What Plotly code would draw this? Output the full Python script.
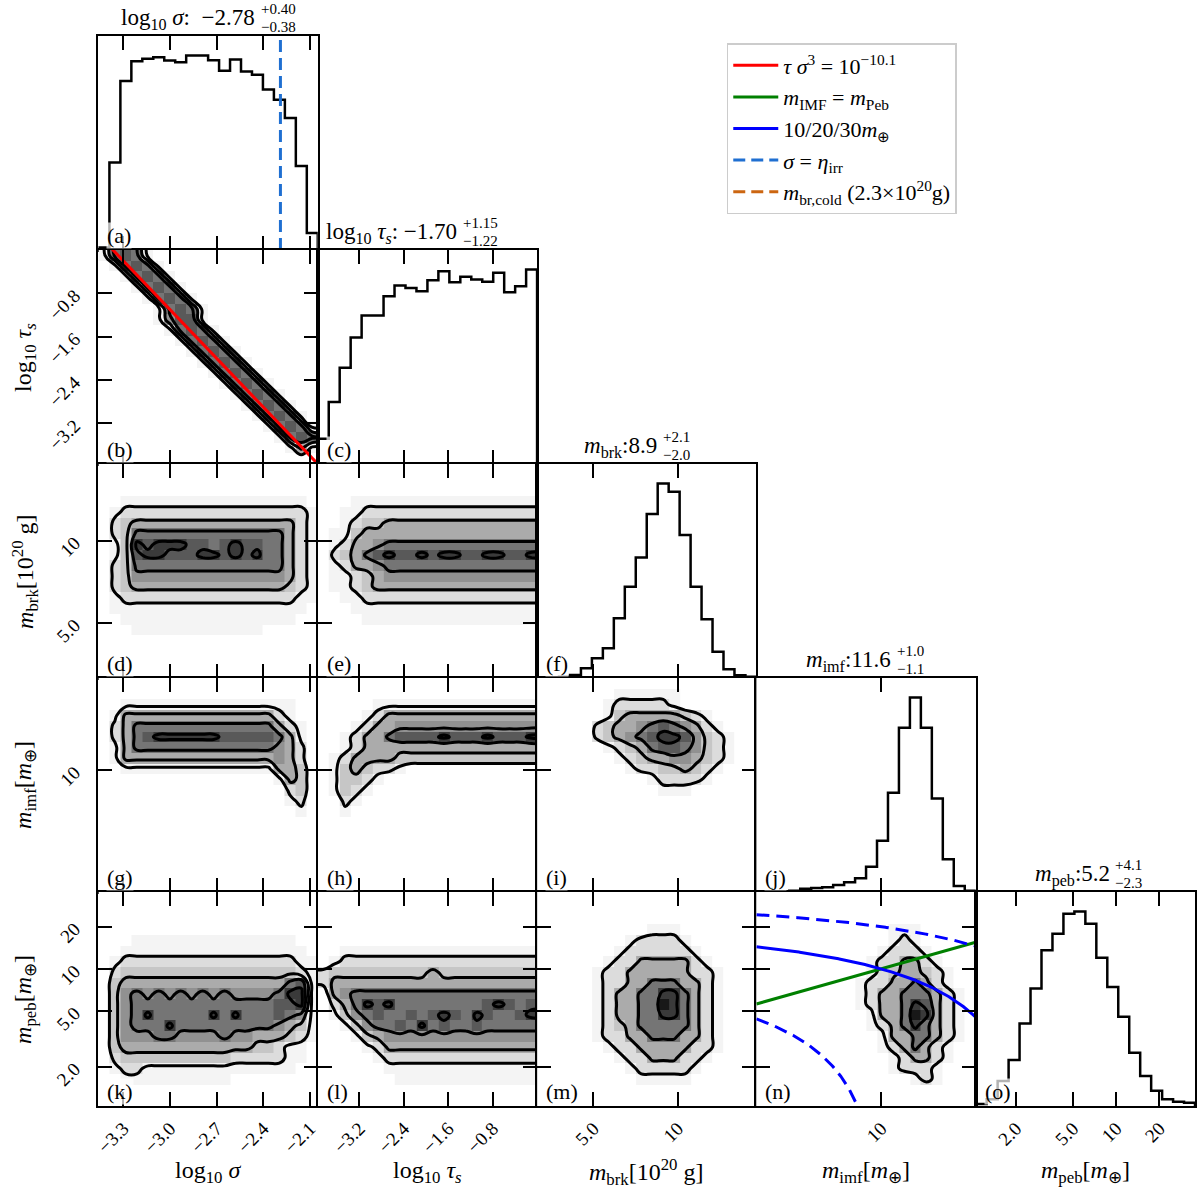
import numpy as np
import plotly.graph_objects as go

FONT = "Liberation Serif"
W, H = 1200, 1198
GRID_LEFT, GRID_RIGHT, GRID_TOP, GRID_BOTTOM = 94.0, 1197.0, 36.0, 1106.0
NPAR = 5
NBINS = 20

# ---------------- parameters / axes ----------------
IS_LOG = [False, False, True, True, True]
AX_RANGE = [(-3.46, -2.05), (-3.95, 0.0), (0.498, 1.28), (0.749, 1.19), (0.02, 1.549)]
TICK_VALS = [[-3.3, -3.0, -2.7, -2.4, -2.1], [-3.2, -2.4, -1.6, -0.8], [5, 10], [10], [2, 5, 10, 20]]
TICK_TEXT = [["−3.3", "−3.0", "−2.7", "−2.4", "−2.1"], ["−3.2", "−2.4", "−1.6", "−0.8"],
             ["5.0", "10"], ["10"], ["2.0", "5.0", "10", "20"]]
AXIS_TITLES = ["log<sub>10</sub> <i>σ</i>", "log<sub>10</sub> <i>τ<sub>s</sub></i>",
               "<i>m</i><sub>brk</sub>[10<sup>20</sup> g]", "<i>m</i><sub>imf</sub>[<i>m</i><sub>⊕</sub>]",
               "<i>m</i><sub>peb</sub>[<i>m</i><sub>⊕</sub>]"]
TITLE_NAMES = ["log<sub>10</sub> <i>σ</i>:  ", "log<sub>10</sub> <i>τ<sub>s</sub></i>: ",
               "<i>m</i><sub>brk</sub>:", "<i>m</i><sub>imf</sub>:", "<i>m</i><sub>peb</sub>:"]
MEDIANS = ["−2.78", "−1.70", "8.9", "11.6", "5.2"]
ERR_PLUS = ["+0.40", "+1.15", "+2.1", "+1.0", "+4.1"]
ERR_MINUS = ["−0.38", "−1.22", "−2.0", "−1.1", "−2.3"]
TITLE_SPLIT_X = [253, 457, 658, 893, 1113]
PANEL_LETTERS = list("abcdefghijklmno")

# ---------------- 1D histograms (20 bins over axis range) ----------------
HIST_LOG_SIGMA = [7, 257, 497, 555, 562, 567, 557, 552, 572, 572, 558, 527, 560, 525, 515, 472, 442, 388, 247, 50]
HIST_LOG_TAU = [75, 185, 287, 377, 443, 443, 500, 532, 525, 515, 548, 575, 542, 558, 550, 543, 570, 512, 530, 580]
HIST_MBRK = [0, 2, 4, 9, 29, 59, 89, 179, 274, 362, 492, 584, 559, 429, 274, 176, 79, 26, 8, 4]
HIST_MIMF = [1, 1, 2, 4, 10, 12, 14, 21, 29, 41, 76, 154, 298, 493, 584, 493, 281, 98, 18, 4]
HIST_MPEB = [6, 20, 75, 138, 248, 353, 468, 518, 578, 585, 548, 446, 358, 268, 160, 90, 46, 20, 13, 10]
HISTS = [HIST_LOG_SIGMA, HIST_LOG_TAU, HIST_MBRK, HIST_MIMF, HIST_MPEB]

# ---------------- 2D densities (20x20, top row first, digits 0-9) ----------------
DENS_TAU_SIGMA = [
    "16761000000000000000", "01676100000000000000", "00167610000000000000", "00016761000000000000",
    "00001676100000000000", "00000167610000000000", "00000157710000000000", "00000016761000000000",
    "00000001676100000000", "00000000167610000000", "00000000016761000000", "00000000001676100000",
    "00000000000167610000", "00000000000016761000", "00000000000001676100", "00000000000000167610",
    "00000000000000016761", "00000000000000001676", "00000000000000000141", "00000000000000000000"]
DENS_MBRK_SIGMA = [
    "00000000000000000000", "00000000000000000000", "00000000000000000000", "00111111111111111110",
    "01222222222222222221", "02344444444444444421", "02366666666666666421", "01387888776787766421",
    "01378877788787866421", "02366666666666666421", "02355555555555555421", "02344444444444444321",
    "01222222222222222211", "01111111111111111110", "00111111111111111100", "00011111111111100000",
    "00000000000000000000", "00000000000000000000", "00000000000000000000", "00000000000000000000"]
DENS_MBRK_TAU = [
    "00000000000000000000", "00000000000000000000", "00000000000000000000", "00011111111111111111",
    "00112222222222222222", "00123344444444444444", "01134444444444444444", "01244566666666666666",
    "02346787787887788778", "01244566666666666666", "01123455555555555555", "01123444444444444444",
    "00112222222222222222", "00011111111111111111", "00001111111111111111", "00000000000000000000",
    "00000000000000000000", "00000000000000000000", "00000000000000000000", "00000000000000000000"]
DENS_MIMF_SIGMA = [
    "00000000000000000000", "00000000000000000000", "00111111111111111100", "01444444444444442100",
    "02466666666666664210", "02467888888777776410", "01466666666666665420", "01444444444444445420",
    "00111111111111114430", "00000000000000001430", "00000000000000000230", "00000000000000000120",
    "00000000000000000010", "00000000000000000000", "00000000000000000000", "00000000000000000000",
    "00000000000000000000", "00000000000000000000", "00000000000000000000", "00000000000000000000"]
DENS_MIMF_TAU = [
    "00000000000000000000", "00000000000000000000", "00000111111111111111", "00001244444444444444",
    "00012445555555555555", "00124467777877787778", "00124444444444444444", "01244443333333333333",
    "01343221000000000000", "01332100000000000000", "01321000000000000000", "00210000000000000000",
    "00100000000000000000", "00000000000000000000", "00000000000000000000", "00000000000000000000",
    "00000000000000000000", "00000000000000000000", "00000000000000000000", "00000000000000000000"]
DENS_MIMF_MBRK = [
    "00000000000000000000", "00000001111110000000", "00000012222210000000", "00000013444443210000",
    "00000234456765421000", "00000234567887532100", "00000012346776532100", "00000001234455432100",
    "00000000122334321000", "00000000001222210000", "00000000000111000000", "00000000000000000000",
    "00000000000000000000", "00000000000000000000", "00000000000000000000", "00000000000000000000",
    "00000000000000000000", "00000000000000000000", "00000000000000000000", "00000000000000000000"]
DENS_MPEB_SIGMA = [
    "00000000000000000000", "00000000000000000000", "00000000000000000000", "00000000000000000000",
    "00011111111111111100", "00111111111111111110", "01222222222222222211", "02333333333333333321",
    "03444444444444444671", "03565656565655556881", "03566666666666667781", "03568666668686667651",
    "03566686666666665431", "03555665555655444321", "03444444444444332110", "02333333333322222110",
    "01221111111111111100", "00111111111100000000", "00000000000000000000", "00000000000000000000"]
DENS_MPEB_TAU = [
    "00000000000000000000", "00000000000000000000", "00000000000000000000", "00000000000000000000",
    "00000000000000000000", "00111111111111111111", "01222222222222222222", "23333333334333333333",
    "24444444444444444444", "04566666666666666666", "02468786666666678767", "01356766767876876678",
    "00135667686766766666", "00013455555555555555", "00001244444444444444", "00000122222222222222",
    "00000011111111111111", "00000001111111111111", "00000000000000000000", "00000000000000000000"]
DENS_MPEB_MBRK = [
    "00000000000000000000", "00000000000000000000", "00000000000000000000", "00000000001110000000",
    "00000000122221000000", "00000001222222100000", "00000012244444210000", "00000122444444221000",
    "00000122446664421000", "00000124466886421000", "00000124466986421000", "00000124466886421000",
    "00000123466666421000", "00000122446664421000", "00000012244444221000", "00000001224442210000",
    "00000000122222100000", "00000000011111000000", "00000000000000000000", "00000000000000000000"]
DENS_MPEB_MIMF = [
    "00000000000000000000", "00000000000000000000", "00000000000000000000", "00000000000011100000",
    "00000000000012100000", "00000000000122210000", "00000000001224421000", "00000000001234432100",
    "00000000012244642100", "00000000012446664210", "00000000012446874210", "00000000001446984210",
    "00000000001246864210", "00000000000144664210", "00000000000124642100", "00000000000012442100",
    "00000000000012221000", "00000000000000121000", "00000000000000000000", "00000000000000000000"]
DENSITY = {(1, 0): DENS_TAU_SIGMA, (2, 0): DENS_MBRK_SIGMA, (2, 1): DENS_MBRK_TAU,
           (3, 0): DENS_MIMF_SIGMA, (3, 1): DENS_MIMF_TAU, (3, 2): DENS_MIMF_MBRK,
           (4, 0): DENS_MPEB_SIGMA, (4, 1): DENS_MPEB_TAU, (4, 2): DENS_MPEB_MBRK, (4, 3): DENS_MPEB_MIMF}

# ---------------- reference relations ----------------
LOG_TAU_SIGMA3 = -10.1
LOG_SIGMA_ETA_IRR = -2.29
M_BR_COLD = 2.3
TOTAL_MASSES = [10, 20, 30]

RED, GREEN, BLUE = "#ff0000", "#008000", "#0000ff"
BLUE_DASH, ORANGE = "#1f6fd1", "#cc6611"
GRAY_SCALE = [[0, "#ffffff"], [1 / 9, "#f4f4f4"], [2 / 9, "#dcdcdc"], [3 / 9, "#c6c6c6"],
              [4 / 9, "#ababab"], [5 / 9, "#919191"], [6 / 9, "#757575"], [7 / 9, "#595959"],
              [8 / 9, "#3a3a3a"], [1, "#181818"]]


def to_data(c, vals):
    vals = np.asarray(vals, float)
    return 10 ** vals if IS_LOG[c] else vals


def bin_edges(c):
    lo, hi = AX_RANGE[c]
    return np.linspace(lo, hi, NBINS + 1)


def parse_grid(rows):
    rows = list(rows) + ["0" * NBINS] * (NBINS - len(rows))
    return np.array([[int(ch) for ch in r.ljust(NBINS, "0")[:NBINS]] for r in rows[:NBINS]], float)


CW = (GRID_RIGHT - GRID_LEFT) / NPAR
RH = (GRID_BOTTOM - GRID_TOP) / NPAR


def panel_px(r, c):
    x0 = GRID_LEFT + c * CW
    y0 = GRID_TOP + r * RH
    return x0, x0 + CW, y0, y0 + RH


def px(x):
    return x / W


def py(y):
    return 1 - y / H


fig = go.Figure()
layout = {}
axes = {}
common = dict(showline=True, linecolor="black", linewidth=2, mirror="ticks", ticks="inside",
              ticklen=14, tickwidth=2, tickcolor="black", showgrid=False, zeroline=False,
              tickfont=dict(family=FONT, size=19, color="black"), tickangle=-45)
k = 0
for r in range(NPAR):
    for c in range(r + 1):
        k += 1
        xa, ya = ("x", "y") if k == 1 else (f"x{k}", f"y{k}")
        xk, yk = ("xaxis", "yaxis") if k == 1 else (f"xaxis{k}", f"yaxis{k}")
        x0, x1, y0, y1 = panel_px(r, c)
        xcfg = dict(common, domain=[px(x0), px(x1)], anchor=ya, range=list(AX_RANGE[c]),
                    type="log" if IS_LOG[c] else "linear", tickvals=TICK_VALS[c], ticktext=TICK_TEXT[c],
                    showticklabels=(r == NPAR - 1), ticklabelstandoff=2)
        if r == c:
            ycfg = dict(domain=[py(y1), py(y0)], anchor=xa, showline=True, linecolor="black", linewidth=2,
                        mirror=True, ticks="", showticklabels=False, showgrid=False, zeroline=False,
                        range=[0, 1.1 * max(HISTS[c])])
        else:
            ycfg = dict(common, domain=[py(y1), py(y0)], anchor=xa, range=list(AX_RANGE[r]),
                        type="log" if IS_LOG[r] else "linear", tickvals=TICK_VALS[r], ticktext=TICK_TEXT[r],
                        showticklabels=(c == 0), ticklabelstandoff=18)
        layout[xk] = xcfg
        layout[yk] = ycfg
        axes[(r, c)] = (xa, ya)

# panel traces
for r in range(NPAR):
    for c in range(r + 1):
        xa, ya = axes[(r, c)]
        if r == c:
            e = to_data(c, bin_edges(c))
            h = HISTS[c]
            xs = [e[0]] + list(e[:-1]) + [e[-1]]
            ys = [0] + list(h) + [0]
            fig.add_trace(go.Scatter(x=xs, y=ys, mode="lines", line=dict(color="black", width=2.5, shape="hv"),
                                     showlegend=False, hoverinfo="skip", xaxis=xa, yaxis=ya))
        else:
            z = parse_grid(DENSITY[(r, c)])[::-1]
            xe = to_data(c, bin_edges(c))
            ye = to_data(r, bin_edges(r))
            fig.add_trace(go.Heatmap(x=xe, y=ye, z=z, colorscale=GRAY_SCALE, zmin=0, zmax=9, showscale=False,
                                     showlegend=False, hoverinfo="skip", xaxis=xa, yaxis=ya))
            lox, hix = AX_RANGE[c]
            loy, hiy = AX_RANGE[r]
            idx = np.arange(-1, NBINS + 1) + 0.5
            xc = to_data(c, lox + idx * (hix - lox) / NBINS)
            yc = to_data(r, loy + idx * (hiy - loy) / NBINS)
            zp = np.pad(z, 1, mode="edge")
            fig.add_trace(go.Contour(x=xc, y=yc, z=zp, showscale=False, showlegend=False, hoverinfo="skip",
                                     contours=dict(start=1.5, end=7.5, size=2, coloring="none"),
                                     line=dict(color="black", width=3, smoothing=1.3),
                                     xaxis=xa, yaxis=ya))

# reference lines (legend order)
xa, ya = axes[(1, 0)]
sx = np.array(AX_RANGE[0])
fig.add_trace(go.Scatter(x=sx, y=LOG_TAU_SIGMA3 - 3 * sx, mode="lines", line=dict(color=RED, width=3),
                         name="<i>τ σ</i><sup>3</sup> = 10<sup>−10.1</sup>", xaxis=xa, yaxis=ya))
xa, ya = axes[(4, 3)]
mi = 10 ** np.array(AX_RANGE[3])
fig.add_trace(go.Scatter(x=mi, y=mi, mode="lines", line=dict(color=GREEN, width=3),
                         name="<i>m</i><sub>IMF</sub> = <i>m</i><sub>Peb</sub>", xaxis=xa, yaxis=ya))
mgrid = np.geomspace(mi[0], mi[1], 300)
for M in TOTAL_MASSES:
    yv = M - mgrid
    keep = yv > 0.3
    solid = (M == 20)
    fig.add_trace(go.Scatter(x=mgrid[keep], y=yv[keep], mode="lines",
                             line=dict(color=BLUE, width=3, dash="solid" if solid else "13px,7px"),
                             name="10/20/30<i>m</i><sub>⊕</sub>", showlegend=solid, xaxis=xa, yaxis=ya))
xa, ya = axes[(0, 0)]
fig.add_trace(go.Scatter(x=[LOG_SIGMA_ETA_IRR, LOG_SIGMA_ETA_IRR], y=[0, 1.1 * max(HIST_LOG_SIGMA)], mode="lines",
                         line=dict(color=BLUE_DASH, width=3, dash="12px,6px"),
                         name="<i>σ</i> = <i>η</i><sub>irr</sub>", xaxis=xa, yaxis=ya))
xa, ya = axes[(2, 2)]
fig.add_trace(go.Scatter(x=[M_BR_COLD, M_BR_COLD], y=[0, 1.1 * max(HIST_MBRK)], mode="lines",
                         line=dict(color=ORANGE, width=3, dash="12px,6px"),
                         name="<i>m</i><sub>br,cold</sub> (2.3×10<sup>20</sup>g)", xaxis=xa, yaxis=ya))

# annotations
ann = []
k = 0
for r in range(NPAR):
    for c in range(r + 1):
        x0, x1, y0, y1 = panel_px(r, c)
        ann.append(dict(x=px(x0 + 8), y=py(y1 - 1), xref="paper", yref="paper", xanchor="left", yanchor="bottom",
                        text="(%s)" % PANEL_LETTERS[k], showarrow=False, bgcolor="rgba(255,255,255,0.7)",
                        borderpad=0, font=dict(family=FONT, size=22, color="black")))
        k += 1
for c in range(NPAR):
    x0, x1, y0, y1 = panel_px(c, c)
    xs = TITLE_SPLIT_X[c]
    ann.append(dict(x=px(xs - 1), y=py(y0 - 17), xref="paper", yref="paper", xanchor="right", yanchor="middle",
                    text=TITLE_NAMES[c] + MEDIANS[c], showarrow=False, borderpad=0,
                    font=dict(family=FONT, size=23, color="black")))
    ann.append(dict(x=px(xs + 3), y=py(y0 - 27), xref="paper", yref="paper", xanchor="left", yanchor="middle",
                    text=ERR_PLUS[c], showarrow=False, borderpad=0, font=dict(family=FONT, size=15, color="black")))
    ann.append(dict(x=px(xs + 3), y=py(y0 - 9), xref="paper", yref="paper", xanchor="left", yanchor="middle",
                    text=ERR_MINUS[c], showarrow=False, borderpad=0, font=dict(family=FONT, size=15, color="black")))
    # bottom axis titles
    bx0, bx1, _, _ = panel_px(NPAR - 1, c)
    ann.append(dict(x=px((bx0 + bx1) / 2), y=py(1172), xref="paper", yref="paper", xanchor="center",
                    yanchor="middle", text=AXIS_TITLES[c], showarrow=False,
                    font=dict(family=FONT, size=24, color="black")))
    if c >= 1:
        _, _, ly0, ly1 = panel_px(c, 0)
        ann.append(dict(x=px(20), y=py((ly0 + ly1) / 2), xref="paper", yref="paper", xanchor="center",
                        yanchor="middle", text=AXIS_TITLES[c], textangle=-90, showarrow=False,
                        font=dict(family=FONT, size=24, color="black")))

fig.update_layout(**layout)
fig.update_layout(width=W, height=H, margin=dict(l=0, r=0, t=0, b=0), autosize=False,
                  plot_bgcolor="white", paper_bgcolor="white", annotations=ann,
                  font=dict(family=FONT, color="black"),
                  legend=dict(x=px(726), y=py(43), xanchor="left", yanchor="top", bgcolor="white",
                              bordercolor="#cccccc", borderwidth=1.5, tracegroupgap=0, itemwidth=45,
                              font=dict(family=FONT, size=22, color="black")))
fig.write_html("out.html", config={"displayModeBar": False},
               post_script="document.body.style.margin='0px';")
